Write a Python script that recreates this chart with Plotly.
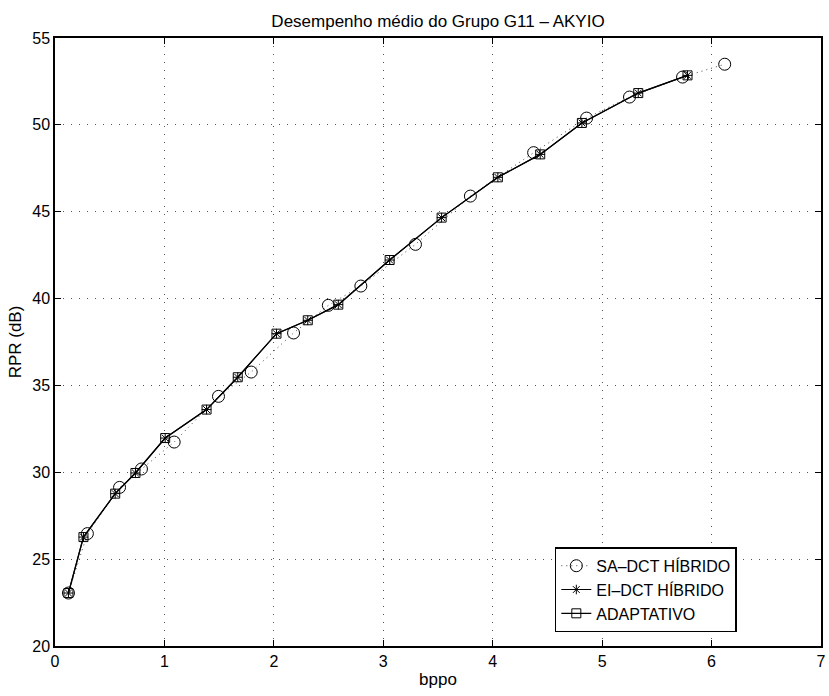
import plotly.graph_objects as go

# SA-DCT HÍBRIDO (circles, dotted line)
sa_x = [0.123, 0.296, 0.59, 0.79, 1.089, 1.494, 1.793, 2.18, 2.498, 2.795, 3.294, 3.796, 4.374, 4.858, 5.25, 5.735, 6.12]
sa_y = [23.05, 26.47, 29.13, 30.19, 31.74, 34.37, 35.77, 38.02, 39.61, 40.72, 43.12, 45.90, 48.40, 50.39, 51.60, 52.75, 53.49]

# EI-DCT HÍBRIDO (asterisks, solid line)
ei_x = [0.123, 0.26, 0.55, 0.735, 1.007, 1.385, 1.67, 2.024, 2.31, 2.589, 3.058, 3.533, 4.047, 4.434, 4.815, 5.33, 5.78]
ei_y = [23.05, 26.27, 28.77, 29.96, 31.97, 33.61, 35.47, 37.98, 38.75, 39.65, 42.22, 44.66, 46.98, 48.30, 50.11, 51.83, 52.85]

# ADAPTATIVO (squares, solid line)
ad_x = [0.123, 0.26, 0.55, 0.735, 1.007, 1.385, 1.67, 2.024, 2.31, 2.589, 3.058, 3.533, 4.047, 4.434, 4.815, 5.33, 5.78]
ad_y = [23.05, 26.27, 28.77, 29.96, 31.97, 33.61, 35.47, 37.98, 38.75, 39.65, 42.22, 44.66, 46.98, 48.30, 50.11, 51.83, 52.85]

x_ticks = [0, 1, 2, 3, 4, 5, 6, 7]
y_ticks = [20, 25, 30, 35, 40, 45, 50, 55]

FONT = "Liberation Sans, Arial, sans-serif"

fig = go.Figure()
fig.add_trace(go.Scatter(
    x=sa_x, y=sa_y, mode="lines+markers", name="SA\u2013DCT H\u00cdBRIDO",
    line=dict(color="#444444", width=1, dash="1px,4px"),
    marker=dict(symbol="circle-open", size=12, color="black", line=dict(width=1)),
))
fig.add_trace(go.Scatter(
    x=ei_x, y=ei_y, mode="lines+markers", name="EI\u2013DCT H\u00cdBRIDO",
    line=dict(color="black", width=1.2),
    marker=dict(symbol="asterisk-open", size=8, color="black", line=dict(width=1, color="black")),
))
fig.add_trace(go.Scatter(
    x=ad_x, y=ad_y, mode="lines+markers", name="ADAPTATIVO",
    line=dict(color="black", width=1.2),
    marker=dict(symbol="square-open", size=9, color="black", line=dict(width=1)),
))

axis_common = dict(
    showgrid=True, gridcolor="#555555", griddash="1px,7px", gridwidth=1,
    showline=True, linecolor="black", linewidth=1.5, mirror="ticks",
    ticks="inside", ticklen=6, tickcolor="black", tickwidth=1,
    zeroline=False, tickfont=dict(family=FONT, size=16, color="black"),
    ticklabeloverflow="allow",
)

fig.update_layout(
    width=829, height=696,
    margin=dict(l=55, r=3, t=38, b=50),
    paper_bgcolor="white", plot_bgcolor="white",
    font=dict(family=FONT, color="black"),
    title=dict(text="Desempenho m\u00e9dio do Grupo G11 \u2013 AKYIO",
               x=0.5, xref="paper", y=1 - 21 / 696, yref="container",
               yanchor="middle", xanchor="center",
               font=dict(family=FONT, size=17, color="black")),
    xaxis=dict(range=[0, 7], tickvals=x_ticks,
               title=dict(text="bppo", font=dict(family=FONT, size=17), standoff=4),
               **axis_common),
    yaxis=dict(range=[20, 55], tickvals=y_ticks,
               title=dict(text="RPR (dB)", font=dict(family=FONT, size=17), standoff=6),
               **axis_common),
    legend=dict(x=0.6525, y=0.1623, xanchor="left", yanchor="top",
                bgcolor="white", bordercolor="black", borderwidth=1.5,
                font=dict(family=FONT, size=16, color="black"),
                itemwidth=30, tracegroupgap=0),
    showlegend=True,
)

fig.write_html("out.html")
